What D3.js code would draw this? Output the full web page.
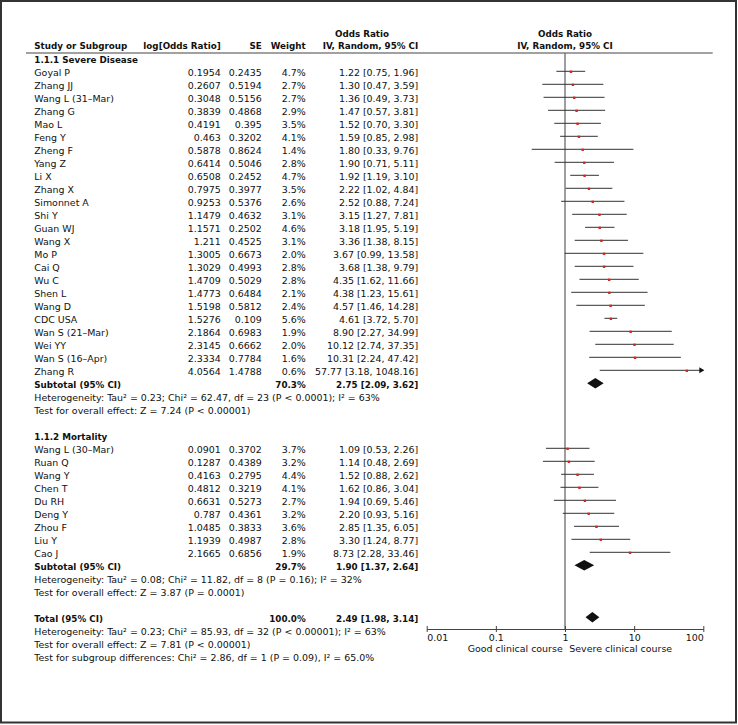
<!DOCTYPE html>
<html><head><meta charset="utf-8">
<script src="https://cdn.jsdelivr.net/npm/d3@7/dist/d3.min.js"></script>
<style>
body{margin:0;background:#fff}
svg{display:block}
text{font-family:"DejaVu Sans",sans-serif;font-size:9.45px;fill:#111}
.b{font-weight:bold;font-size:8.75px}
</style>
</head><body>
<svg id="c" width="738" height="725"></svg>
<script>
// ---------- data ----------
const severeStudies = ["Goyal P","Zhang JJ","Wang L (31–Mar)","Zhang G","Mao L","Feng Y","Zheng F","Yang Z","Li X","Zhang X","Simonnet A","Shi Y","Guan WJ","Wang X","Mo P","Cai Q","Wu C","Shen L","Wang D","CDC USA","Wan S (21–Mar)","Wei YY","Wan S (16–Apr)","Zhang R"];
const severeLogOR = [0.1954,0.2607,0.3048,0.3839,0.4191,0.463,0.5878,0.6414,0.6508,0.7975,0.9253,1.1479,1.1571,1.211,1.3005,1.3029,1.4709,1.4773,1.5198,1.5276,2.1864,2.3145,2.3334,4.0564];
const severeSE = [0.2435,0.5194,0.5156,0.4868,0.395,0.3202,0.8624,0.5046,0.2452,0.3977,0.5376,0.4632,0.2502,0.4525,0.6673,0.4993,0.5029,0.6484,0.5812,0.109,0.6983,0.6662,0.7784,1.4788];
const severeWeight = [4.7,2.7,2.7,2.9,3.5,4.1,1.4,2.8,4.7,3.5,2.6,3.1,4.6,3.1,2.0,2.8,2.8,2.1,2.4,5.6,1.9,2.0,1.6,0.6];
const severeOR = [1.22,1.30,1.36,1.47,1.52,1.59,1.80,1.90,1.92,2.22,2.52,3.15,3.18,3.36,3.67,3.68,4.35,4.38,4.57,4.61,8.90,10.12,10.31,57.77];
const severeLower = [0.75,0.47,0.49,0.57,0.70,0.85,0.33,0.71,1.19,1.02,0.88,1.27,1.95,1.38,0.99,1.38,1.62,1.23,1.46,3.72,2.27,2.74,2.24,3.18];
const severeUpper = [1.96,3.59,3.73,3.81,3.30,2.98,9.76,5.11,3.10,4.84,7.24,7.81,5.19,8.15,13.58,9.79,11.66,15.61,14.28,5.70,34.99,37.35,47.42,1048.16];

const mortStudies = ["Wang L (30–Mar)","Ruan Q","Wang Y","Chen T","Du RH","Deng Y","Zhou F","Liu Y","Cao J"];
const mortLogOR = [0.0901,0.1287,0.4163,0.4812,0.6631,0.787,1.0485,1.1939,2.1665];
const mortSE = [0.3702,0.4389,0.2795,0.3219,0.5273,0.4361,0.3833,0.4987,0.6856];
const mortWeight = [3.7,3.2,4.4,4.1,2.7,3.2,3.6,2.8,1.9];
const mortOR = [1.09,1.14,1.52,1.62,1.94,2.20,2.85,3.30,8.73];
const mortLower = [0.53,0.48,0.88,0.86,0.69,0.93,1.35,1.24,2.28];
const mortUpper = [2.26,2.69,2.62,3.04,5.46,5.16,6.05,8.77,33.46];

const groupTitles = ["1.1.1 Severe Disease","1.1.2 Mortality"];
const summaryLabels = ["Subtotal (95% CI)","Subtotal (95% CI)","Total (95% CI)"];
const summaryWeight = [70.3,29.7,100.0];
const summaryOR = [2.75,1.90,2.49];
const summaryLower = [2.09,1.37,1.98];
const summaryUpper = [3.62,2.64,3.14];
const severeNotes = ["Heterogeneity: Tau² = 0.23; Chi² = 62.47, df = 23 (P < 0.0001); I² = 63%","Test for overall effect: Z = 7.24 (P < 0.00001)"];
const mortNotes = ["Heterogeneity: Tau² = 0.08; Chi² = 11.82, df = 8 (P = 0.16); I² = 32%","Test for overall effect: Z = 3.87 (P = 0.0001)"];
const totalNotes = ["Heterogeneity: Tau² = 0.23; Chi² = 85.93, df = 32 (P < 0.00001); I² = 63%","Test for overall effect: Z = 7.81 (P < 0.00001)","Test for subgroup differences: Chi² = 2.86, df = 1 (P = 0.09), I² = 65.0%"];
const tickValues = [0.01,0.1,1,10,100];
const tickLabels = ["0.01","0.1","1","10","100"];
const favourLabels = ["Good clinical course","Severe clinical course"];
const headerCols = ["Study or Subgroup","log[Odds Ratio]","SE","Weight","Odds Ratio","IV, Random, 95% CI"];

// ---------- layout ----------
const svg = d3.select("#c");
const colName = 34.3, colLog = 220.7, colSE = 261.7, colW = 305.7, colOR = 418.3;
const x = d3.scaleLog().domain([0.01,100]).range([426.7,703.3]);
const rowY = k => 58.3 + 13*k;
const tb = 4.6; // baseline offset
const fmtCI = (o,l,h) => `${o.toFixed(2)} [${l.toFixed(2)}, ${h.toFixed(2)}]`;
const red = "#d9251c";

svg.append("rect").attr("x",1).attr("y",1).attr("width",735).attr("height",721.5)
  .attr("fill","none").attr("stroke","#333").attr("stroke-width",2);

function txt(xp,y,s,anchor,bold){
  return svg.append("text").attr("x",xp).attr("y",y).attr("text-anchor",anchor||"start")
    .attr("class",bold?"b":null).text(s);
}

// header
txt(362,36.5,headerCols[4],"middle",true);
txt(colName,49,headerCols[0],"start",true);
txt(colLog,49,headerCols[1],"end",true);
txt(colSE,49,headerCols[2],"end",true);
txt(colW,49,headerCols[3],"end",true);
txt(colOR,49,headerCols[5],"end",true);
txt(x(1),36.5,headerCols[4],"middle",true);
txt(x(1),49,headerCols[5],"middle",true);
svg.append("line").attr("x1",26).attr("x2",712.7).attr("y1",53).attr("y2",53)
  .attr("stroke","#444").attr("stroke-width",1.1);

// null line
svg.append("line").attr("x1",x(1)).attr("x2",x(1)).attr("y1",53).attr("y2",629)
  .attr("stroke","#6a6a6a").attr("stroke-width",1.3);

function studyRows(startK, names, lg, se, w, or, lo, hi){
  names.forEach((n,i)=>{
    const y = rowY(startK+i);
    txt(colName,y+tb,n);
    txt(colLog,y+tb,String(lg[i]),"end");
    txt(colSE,y+tb,String(se[i]),"end");
    txt(colW,y+tb,w[i].toFixed(1)+"%","end");
    txt(colOR,y+tb,fmtCI(or[i],lo[i],hi[i]),"end");
    const [d0,d1] = x.domain();
    const x1 = x(Math.max(lo[i],d0)), x2 = x(Math.min(hi[i],d1));
    svg.append("line").attr("x1",x1).attr("x2",x2).attr("y1",y).attr("y2",y)
      .attr("stroke","#333").attr("stroke-width",1);
    if (hi[i] > d1){
      svg.append("path").attr("d",`M${x2+1},${y} l-5,-3 l0,6 z`).attr("fill","#111");
    }
    svg.append("rect").attr("x",x(or[i])-1.2).attr("y",y-0.7).attr("width",2.4).attr("height",2.4)
      .attr("fill",red);
  });
}

function summaryRow(k, idx){
  const y = rowY(k);
  txt(colName,y+tb,summaryLabels[idx],"start",true);
  txt(colW,y+tb,summaryWeight[idx].toFixed(1)+"%","end",true);
  txt(colOR,y+tb,fmtCI(summaryOR[idx],summaryLower[idx],summaryUpper[idx]),"end",true);
  const xl = x(summaryLower[idx]), xm = x(summaryOR[idx]), xr = x(summaryUpper[idx]);
  svg.append("path").attr("d",`M${xl},${y} L${xm},${y-5.3} L${xr},${y} L${xm},${y+5.3} Z`).attr("fill","#111");
}

function notes(k, arr){ arr.forEach((s,i)=>txt(colName,rowY(k+i)+tb,s)); }

txt(colName,rowY(0)+tb,groupTitles[0],"start",true);
studyRows(1,severeStudies,severeLogOR,severeSE,severeWeight,severeOR,severeLower,severeUpper);
summaryRow(25,0);
notes(26,severeNotes);
txt(colName,rowY(29)+tb,groupTitles[1],"start",true);
studyRows(30,mortStudies,mortLogOR,mortSE,mortWeight,mortOR,mortLower,mortUpper);
summaryRow(39,1);
notes(40,mortNotes);
summaryRow(43,2);
notes(44,totalNotes);

// axis
const axisY = 629;
const ax = svg.append("g").attr("transform",`translate(0,${axisY})`)
  .call(d3.axisBottom(x).tickValues(tickValues).tickFormat((d,i)=>tickLabels[i]).tickSizeOuter(0).tickSizeInner(3));
ax.select(".domain").attr("stroke","#444");
ax.selectAll(".tick line").attr("y1",-3).attr("y2",3).attr("stroke","#444");
ax.selectAll(".tick text").attr("y",0).attr("dy",null).attr("transform","translate(0,12)")
  .style("font-family","DejaVu Sans").style("font-size","9.45px").attr("fill","#111")
  .attr("text-anchor",(d,i)=> i===0?"start":(i===tickValues.length-1?"end":"middle"));
txt(x(1)-2.3,651.8,favourLabels[0],"end");
txt(x(1)+4.3,651.8,favourLabels[1],"start");
</script>
</body></html>
